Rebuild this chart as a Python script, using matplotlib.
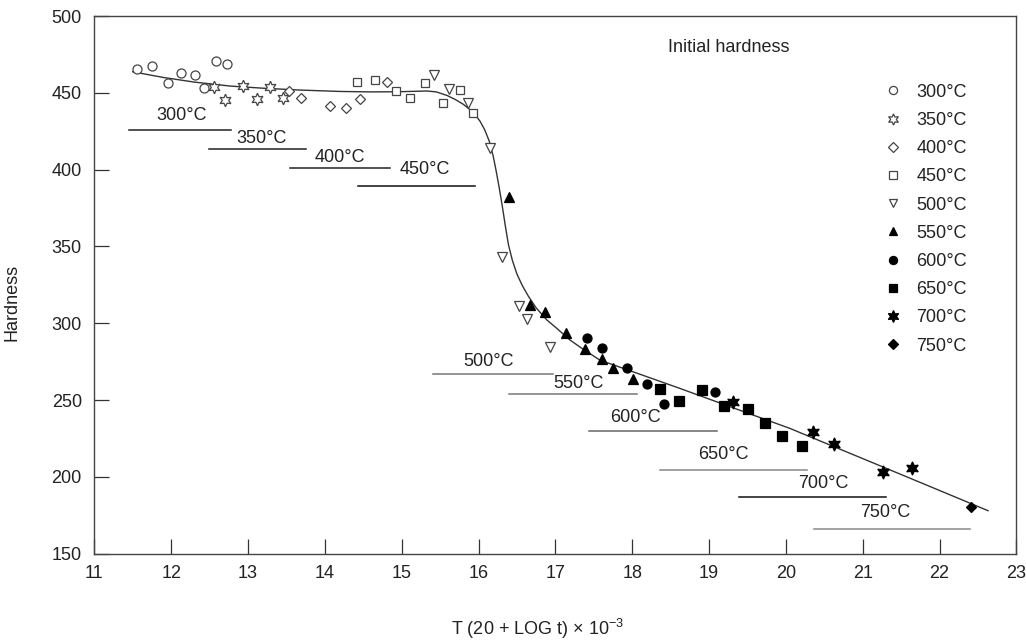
import matplotlib
matplotlib.use("Agg")
import matplotlib.pyplot as plt

plt.rcParams['font.family'] = ['Liberation Sans', 'DejaVu Sans']
plt.rcParams['mathtext.fontset'] = 'custom'
plt.rcParams['mathtext.rm'] = 'Liberation Sans'
plt.rcParams['mathtext.it'] = 'Liberation Sans:italic'

# tempering temperatures and measured points (Larson-Miller parameter, hardness)
temps = ['300', '350', '400', '450', '500', '550', '600', '650', '700', '750']

x300 = [11.56, 11.747, 11.955, 12.128, 12.306, 12.584, 12.731, 12.427]
y300 = [465.5, 467.6, 456.2, 462.7, 461.8, 470.9, 468.6, 452.9]

x350 = [12.558, 12.701, 12.931, 13.113, 13.286, 13.452]
y350 = [454.0, 445.3, 454.4, 445.8, 454.0, 446.4]

x400 = [13.534, 13.69, 14.068, 14.271, 14.461, 14.813]
y400 = [451.2, 446.8, 441.4, 440.3, 445.8, 456.8]

x450 = [14.418, 14.656, 14.926, 15.108, 15.307, 15.541, 15.763, 15.928]
y450 = [456.8, 458.1, 451.4, 446.4, 456.6, 443.6, 451.8, 436.7]

x500 = [15.42, 15.612, 15.859, 16.153, 16.301, 16.53, 16.627, 16.93]
y500 = [461.6, 452.3, 443.6, 414.3, 342.9, 311.2, 302.5, 284.7]

x550 = [16.4, 16.67, 16.871, 17.138, 17.385, 17.606, 17.746, 18.006]
y550 = [382.4, 311.7, 307.3, 293.6, 283.5, 276.9, 271.0, 263.9]

x600 = [17.407, 17.606, 17.936, 18.188, 18.413, 19.081]
y600 = [290.2, 284.1, 271.0, 260.2, 247.4, 255.0]

x650 = [18.361, 18.615, 18.908, 19.191, 19.506, 19.727, 19.951, 20.205]
y650 = [257.4, 249.5, 256.3, 246.3, 243.9, 235.4, 226.8, 219.9]

x700 = [19.315, 20.348, 20.621, 21.267, 21.644]
y700 = [248.7, 229.4, 221.4, 202.9, 205.9]

x750 = [22.404]
y750 = [180.3]

# master curve
curve_x = [11.5, 11.9, 12.3, 12.77, 13.2, 13.68, 14.2, 14.6, 14.94, 15.33,
           15.45, 15.59, 15.7, 15.8, 15.9, 15.97, 16.02, 16.08, 16.14, 16.19,
           16.23, 16.27, 16.31, 16.35, 16.39, 16.44, 16.5, 16.57, 16.65, 16.75,
           16.89, 17.0, 17.19, 17.35, 17.58, 18.0, 18.62, 19.3, 20.05, 21.0,
           21.8, 22.63]
curve_y = [463.7, 460.0, 457.0, 454.4, 453.0, 451.8, 450.9, 450.6, 450.7, 451.2,
           450.6, 448.3, 445.6, 442.6, 438.6, 434.8, 431.5, 426.0, 418.5, 409.0,
           399.0, 388.0, 376.0, 363.0, 351.0, 341.0, 332.0, 324.5, 317.5, 310.0,
           302.1, 297.5, 289.1, 283.5, 276.0, 268.6, 257.6, 245.2, 231.6, 211.9,
           195.3, 178.0]

# parameter range covered at each temperature (start, end, level)
range_start = [11.455, 12.496, 13.547, 14.435, 15.411, 16.396, 17.441, 18.361, 19.393, 20.369]
range_end = [12.779, 13.755, 14.848, 15.954, 16.973, 18.058, 19.099, 20.27, 21.302, 22.395]
range_level = [425.8, 413.4, 401.2, 389.5, 266.7, 253.7, 229.8, 204.4, 187.0, 166.0]

# where each range label sits
label_x = [12.132, 13.178, 14.197, 15.303, 16.127, 17.298, 18.04, 19.185, 20.493, 21.295]
label_y = [435.2, 420.4, 408.2, 400.4, 274.9, 260.6, 238.9, 214.5, 196.0, 176.8]
range_colors = ['#222222', '#222222', '#222222', '#111111', '#777777',
                '#777777', '#666666', '#888888', '#111111', '#888888']

series = [(x300, y300), (x350, y350), (x400, y400), (x450, y450), (x500, y500),
          (x550, y550), (x600, y600), (x650, y650), (x700, y700), (x750, y750)]
open_edge = '#444444'
styles = [
    dict(marker='o', ms=6.5, mfc='white', mec=open_edge),
    dict(marker=(6, 1, 0), ms=9, mfc='white', mec=open_edge),
    dict(marker='D', ms=5.5, mfc='white', mec=open_edge),
    dict(marker='s', ms=6, mfc='white', mec=open_edge),
    dict(marker='v', ms=7, mfc='white', mec=open_edge),
    dict(marker='^', ms=7, mfc='black', mec='black'),
    dict(marker='o', ms=6.5, mfc='black', mec='black'),
    dict(marker='s', ms=6.5, mfc='black', mec='black'),
    dict(marker=(6, 1, 0), ms=9.5, mfc='black', mec='black'),
    dict(marker='D', ms=5.5, mfc='black', mec='black'),
]

fig = plt.figure(figsize=(10.26, 6.41), dpi=100)
ax = fig.add_axes([0.0919, 0.1362, 0.8988, 0.8388])

ax.plot(curve_x, curve_y, color='#333333', lw=1.0, zorder=2)

for (xs, ys), t, st in zip(series, temps, styles):
    ax.plot(xs, ys, linestyle='none', mew=0.9, label=t + '°C', zorder=3, **st)

for xs, xe, lv, c in zip(range_start, range_end, range_level, range_colors):
    ax.plot([xs, xe], [lv, lv], color=c, lw=1.1, zorder=1)

for t, lx, ly in zip(temps, label_x, label_y):
    ax.text(lx, ly, t + '°C', ha='center', va='center', fontsize=13, color='#222222')

ax.text(18.465, 479.8, 'Initial hardness', ha='left', va='center', fontsize=13, color='#222222')

ax.set_xlim(11, 23)
ax.set_ylim(150, 500)
ax.set_xticks(range(11, 24))
ax.set_yticks(range(150, 501, 50))
ax.tick_params(direction='in', length=11, width=0.9, color='#333333',
               labelsize=13, labelcolor='#222222')
ax.tick_params(axis='y', pad=9)
ax.tick_params(axis='x', pad=8)
for sp in ax.spines.values():
    sp.set_color('#444444')
    sp.set_linewidth(1.0)

ax.set_xlabel(r'T (20 + LOG t) $\times$ 10$^{-3}$', fontsize=13, color='#222222',
              va='baseline')
ax.xaxis.set_label_coords(0.481, -0.151)
ax.set_ylabel('Hardness', fontsize=13, color='#222222')
ax.yaxis.set_label_coords(-0.08, 0.468)

ax.legend(loc='upper left', bbox_to_anchor=(0.856, 0.874), frameon=False,
          fontsize=13, handlelength=1.0, handletextpad=0.8, labelspacing=0.62,
          borderpad=0, borderaxespad=0, markerscale=0.9, labelcolor='#222222')

fig.savefig('out.png', dpi=100)
